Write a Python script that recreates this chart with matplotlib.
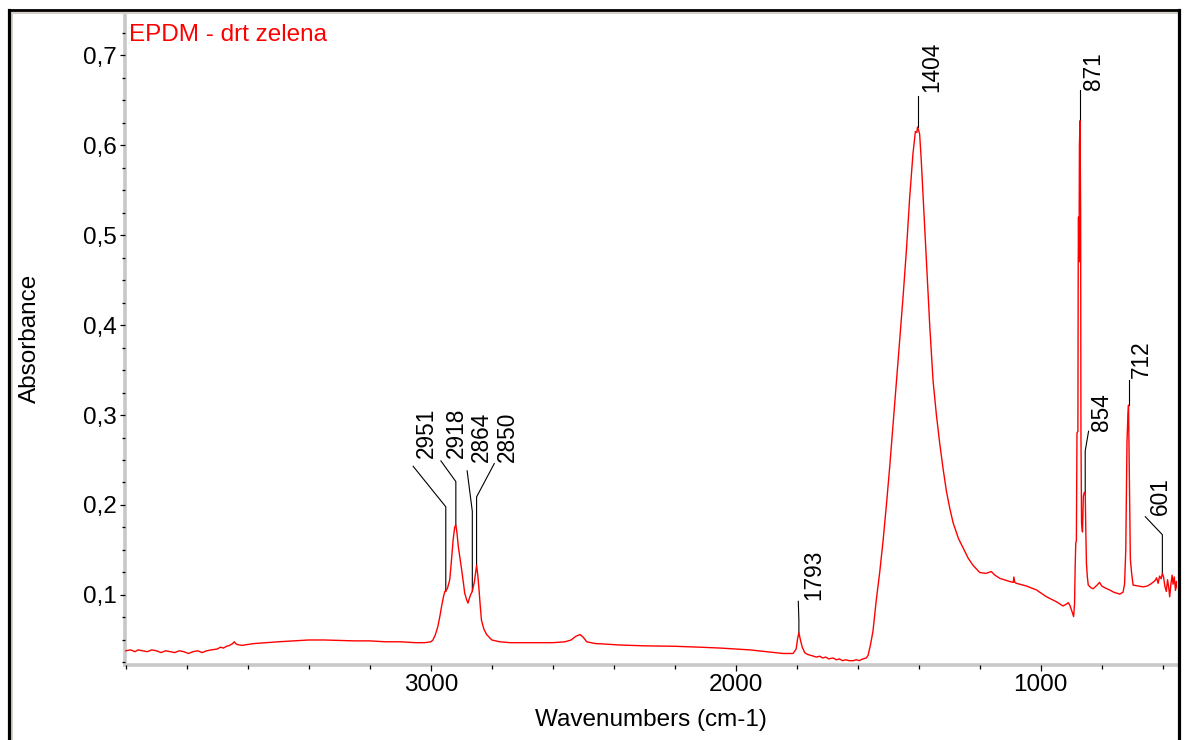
import matplotlib
matplotlib.use('Agg')
import matplotlib.pyplot as plt
from matplotlib.lines import Line2D
from matplotlib.ticker import FixedLocator, MultipleLocator, FuncFormatter

plt.rcParams['font.family'] = ['Liberation Sans', 'DejaVu Sans']

# ---------------- data ----------------
wavenumber = [
    4000, 3985, 3970, 3960, 3945, 3930, 3915, 3900, 3885, 3870, 3855, 3840,
    3825, 3810, 3795, 3780, 3765, 3750, 3735, 3720, 3700, 3690, 3680, 3670,
    3660, 3650, 3645, 3640, 3635, 3620, 3600, 3580, 3540, 3500, 3450, 3400,
    3350, 3300, 3250, 3200, 3150, 3100, 3050, 3020, 3000, 2993, 2985, 2977,
    2970, 2965, 2958, 2954, 2951, 2945, 2938, 2932, 2927, 2922, 2918, 2914,
    2910, 2904, 2899, 2893, 2889, 2882, 2878, 2874, 2870, 2864, 2857, 2850,
    2846, 2842, 2838, 2834, 2826, 2817, 2800, 2774, 2740, 2700, 2650, 2600,
    2560, 2540, 2525, 2511, 2500, 2489, 2460, 2436, 2380, 2300, 2200, 2118,
    2050, 1954, 1900, 1845, 1812, 1802, 1797, 1793, 1788, 1782, 1774, 1765,
    1755, 1745, 1735, 1725, 1715, 1705, 1695, 1681, 1670, 1660, 1650, 1640,
    1628, 1615, 1605, 1595, 1583, 1572, 1566, 1558, 1550, 1539, 1528, 1517,
    1506, 1495, 1484, 1473, 1462, 1451, 1440, 1430, 1419, 1411, 1406, 1404,
    1400, 1397, 1392, 1386, 1375, 1364, 1353, 1342, 1331, 1320, 1309, 1298,
    1287, 1270, 1254, 1238, 1222, 1200, 1180, 1162, 1150, 1134, 1102, 1090,
    1088, 1085, 1080, 1047, 1014, 981, 949, 927, 915, 910, 905, 899, 894, 892,
    889, 887, 885, 883, 881, 878, 877, 876, 875, 874, 873, 871, 869, 868, 866,
    863, 860, 857, 854, 852, 850, 847, 844, 835, 828, 815, 807, 800, 790, 774,
    760, 741, 730, 725, 721, 717, 714, 712, 709, 706, 702, 697, 680, 664, 650, 640,
    632, 625, 620, 615, 610, 605, 601, 597, 593, 588, 584, 580, 577, 573, 569,
    566, 562, 558, 555, 552,
]
absorbance = [
    0.038, 0.039, 0.037, 0.039, 0.038, 0.037, 0.039, 0.038, 0.036, 0.038, 0.037, 0.036,
    0.038, 0.037, 0.035, 0.037, 0.038, 0.036, 0.038, 0.039, 0.040, 0.042, 0.041, 0.043,
    0.044, 0.046, 0.048, 0.046, 0.045, 0.044, 0.045, 0.046, 0.047, 0.048, 0.049, 0.050,
    0.050, 0.0495, 0.049, 0.049, 0.048, 0.048, 0.047, 0.047, 0.048, 0.050, 0.056, 0.065,
    0.077, 0.087, 0.099, 0.104, 0.104, 0.108, 0.117, 0.140, 0.161, 0.175, 0.178, 0.168,
    0.154, 0.140, 0.128, 0.113, 0.102, 0.094, 0.091, 0.096, 0.100, 0.104, 0.115, 0.133,
    0.122, 0.106, 0.088, 0.072, 0.062, 0.056, 0.050, 0.048, 0.047, 0.047, 0.047, 0.047,
    0.048, 0.050, 0.054, 0.056, 0.053, 0.048, 0.046, 0.0456, 0.0444, 0.0435, 0.043, 0.042,
    0.041, 0.039, 0.037, 0.035, 0.035, 0.040, 0.052, 0.058, 0.050, 0.042, 0.036, 0.034,
    0.033, 0.032, 0.031, 0.032, 0.030, 0.031, 0.029, 0.030, 0.028, 0.029, 0.027, 0.028,
    0.027, 0.027, 0.028, 0.027, 0.029, 0.030, 0.033, 0.045, 0.060, 0.095, 0.125, 0.160,
    0.200, 0.243, 0.290, 0.337, 0.385, 0.433, 0.485, 0.540, 0.590, 0.615, 0.614, 0.620,
    0.616, 0.612, 0.585, 0.545, 0.470, 0.400, 0.338, 0.300, 0.268, 0.240, 0.215, 0.196,
    0.180, 0.163, 0.152, 0.141, 0.133, 0.125, 0.124, 0.126, 0.122, 0.1185, 0.115, 0.114,
    0.120, 0.114, 0.113, 0.110, 0.1056, 0.098, 0.0926, 0.0878, 0.090, 0.0915, 0.089, 0.0833, 0.078, 0.076,
    0.090, 0.130, 0.158, 0.160, 0.280, 0.282, 0.460, 0.520, 0.470, 0.500, 0.600, 0.627, 0.520, 0.280, 0.180,
    0.170, 0.210, 0.214, 0.214, 0.170, 0.135, 0.120, 0.111, 0.108, 0.107, 0.111, 0.114, 0.110, 0.108, 0.1056,
    0.103, 0.101, 0.103, 0.112, 0.150, 0.270, 0.300, 0.311, 0.230, 0.140, 0.125, 0.111, 0.110, 0.109, 0.110, 0.112,
    0.114, 0.116, 0.119, 0.113, 0.121, 0.118, 0.124, 0.120, 0.110, 0.104, 0.117, 0.108, 0.098, 0.112, 0.122,
    0.112, 0.120, 0.105, 0.115, 0.108,
]

peak_labels = ['2951', '2918', '2864', '2850', '1793', '1404', '871', '854', '712', '601']
peak_wn = [2951, 2918, 2864, 2850, 1793, 1404, 871, 854, 712, 601]
peak_abs = [0.104, 0.178, 0.104, 0.133, 0.058, 0.620, 0.627, 0.214, 0.311, 0.124]

title_text = 'EPDM - drt zelena'
x_label = 'Wavenumbers (cm-1)'
y_label = 'Absorbance'
x_major = [3000, 2000, 1000]
y_major = [0.1, 0.2, 0.3, 0.4, 0.5, 0.6, 0.7]

# ---------------- label layout (leader knee / end, text anchor) ----------------
knee_y = [0.198, 0.226, 0.193, 0.209, 0.072, 0.654, 0.661, 0.260, 0.339, 0.167]
end_x = [3058, 2967, 2881, 2792, 1795, 1404, 871, 843, 712, 657]
end_y = [0.243, 0.249, 0.238, 0.246, 0.093, 0.654, 0.661, 0.282, 0.339, 0.187]
text_x = [3015, 2916, 2834, 2749, 1744, 1357, 826, 799, 669, 607]
text_y = [0.252, 0.252, 0.248, 0.248, 0.094, 0.659, 0.661, 0.282, 0.341, 0.189]

W, H = 1185, 740
fig = plt.figure(figsize=(W / 100, H / 100), dpi=100)
fig.patch.set_facecolor('white')

ax_l, ax_r, ax_t, ax_b = 125, 1177, 14, 665
ax = fig.add_axes([ax_l / W, 1 - ax_b / H, (ax_r - ax_l) / W, (ax_b - ax_t) / H])

ax.plot(wavenumber, absorbance, color='#ff0000', lw=1.0, zorder=3)

ax.set_xlim(4003, 553)
ax.set_ylim(0.0222, 0.7456)

ax.xaxis.set_major_locator(FixedLocator(x_major))
ax.xaxis.set_minor_locator(MultipleLocator(200))
ax.yaxis.set_major_locator(FixedLocator(y_major))
ax.yaxis.set_minor_locator(MultipleLocator(0.025))
ax.xaxis.set_major_formatter(FuncFormatter(lambda v, p: f'{v:.0f}'))
ax.yaxis.set_major_formatter(FuncFormatter(lambda v, p: f'{v:.1f}'.replace('.', ',')))

ax.tick_params(axis='x', which='major', length=4.5, width=0.9, color='black',
               labelsize=17.5, pad=2)
ax.tick_params(axis='x', which='minor', length=3, width=0.9, color='black')
ax.tick_params(axis='y', which='major', length=3.5, width=0.9, color='black',
               labelsize=17.5, pad=2.5)
ax.tick_params(axis='y', which='minor', length=2.2, width=0.9, color='black')

for s in ['top', 'right']:
    ax.spines[s].set_visible(False)
for s in ['left', 'bottom']:
    ax.spines[s].set_color('#c8c8c8')
    ax.spines[s].set_linewidth(2.6)
    ax.spines[s].set_zorder(1)

# peak labels with leaders
for lab, px, py, ky, ex, ey, tx, ty in zip(peak_labels, peak_wn, peak_abs, knee_y,
                                             end_x, end_y, text_x, text_y):
    ax.plot([px, px, ex], [py, ky, ey], color='black', lw=0.8, zorder=2)
    ax.text(tx, ty, lab, rotation=90, ha='center', va='bottom', fontsize=16.3,
            color='black', zorder=4)

ax.text(0.0038, 0.959, title_text, transform=ax.transAxes, color='#ff0000',
        fontsize=17.5, ha='left', va='baseline')

fig.text(30 / W, 1 - 338 / H, y_label, rotation=90, ha='center', va='center',
         fontsize=17.5)
fig.text(651 / W, 1 - 720 / H, x_label, ha='center', va='center', fontsize=17.5)

# outer window frame
def fline(xs, ys, **kw):
    fig.add_artist(Line2D([x / W for x in xs], [1 - y / H for y in ys],
                          transform=fig.transFigure, **kw))

beige = '#d4d0c8'
fline([11.7, 11.7], [12.5, 745], color=beige, lw=1.5)
fline([11, 1177], [12.8, 12.8], color=beige, lw=1.5)
fline([9, 9], [10, 745], color='black', lw=2.3, solid_capstyle='projecting')
fline([9, 1178.5], [10, 10], color='black', lw=2.0, solid_capstyle='projecting')
fline([1178.5, 1178.5], [10, 745], color='black', lw=2.3, solid_capstyle='projecting')

fig.savefig('out.png', dpi=100, facecolor='white')
